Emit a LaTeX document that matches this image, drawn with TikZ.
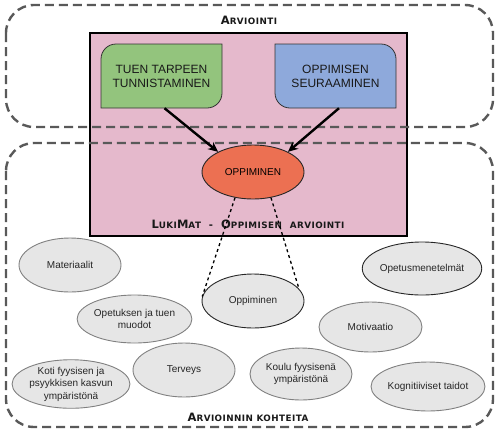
\documentclass[tikz,border=0pt]{standalone}
\usepackage{fontspec}
\setmainfont{Liberation Sans}
\newfontfamily\titlefont[LetterSpace=5]{DejaVu Sans}
\usetikzlibrary{arrows.meta,shapes.geometric}

\definecolor{lukipink}{RGB}{229,185,204}
\definecolor{tuengreen}{RGB}{147,196,125}
\definecolor{seurblue}{RGB}{142,169,219}
\definecolor{opporange}{RGB}{236,112,82}
\definecolor{targetgray}{RGB}{230,230,230}

% fake small caps for the headings
\newcommand{\capbig}[1]{{\fontsize{11.5}{12}\selectfont #1}}
\newcommand{\capsmall}[1]{{\fontsize{8.8}{12}\selectfont #1}}

\begin{document}
\begin{tikzpicture}[x=1pt,y=-1pt,
		areabox/.style={draw=black!65, line width=2.4pt, dash pattern=on 9pt off 5pt, rounded corners=28pt},
		heading/.style={font=\titlefont\bfseries, text=black!90, inner sep=0pt},
		caption/.style={font=\fontsize{12}{14}\selectfont, align=center, text=black!90},
		target/.style={ellipse, draw=black!50, fill=targetgray, line width=0.9pt, minimum width=102pt, minimum height=52pt, inner sep=0pt, align=center, font=\fontsize{10}{12.5}\selectfont, text=black!85},
		focus/.style={target, draw=black!85},
		bigarrow/.style={line width=2.4pt, -{Stealth[length=10pt,width=9pt]}},
		dotline/.style={line width=1.3pt, dash pattern=on 3pt off 3pt}]

		\useasboundingbox (0,0) rectangle (500,437);

		% LukiMat area
		\filldraw[fill=lukipink, draw=black, line width=1.4pt] (90,33) rectangle (407,236);

		% Dashed areas: Arviointi and Arvioinnin kohteita
		\draw[areabox] (6,5) rectangle (493,127);
		\draw[areabox] (6,143) rectangle (493,427);

		% Top boxes
		\filldraw[fill=tuengreen, draw=black!80, line width=0.8pt]
			(101,108) -- (101,59) arc(180:270:15) -- (222,44) -- (222,93) arc(0:90:15) -- cycle;
		\filldraw[fill=seurblue, draw=black!80, line width=0.8pt]
			(275,44) -- (381,44) arc(270:360:15) -- (396,108) -- (290,108) arc(90:180:15) -- cycle;
		\node[caption, minimum width=121pt, minimum height=64pt] (tuen) at (161.5,76) {TUEN TARPEEN\\TUNNISTAMINEN};
		\node[caption, minimum width=121pt, minimum height=64pt] (seur) at (335.5,76) {OPPIMISEN\\SEURAAMINEN};

		% Learning in the middle
		\node[ellipse, draw=black!85, fill=opporange, line width=0.9pt, minimum width=102pt, minimum height=54pt, inner sep=0pt, font=\fontsize{10}{12}\selectfont] (opp) at (253,172) {OPPIMINEN};
		\draw[bigarrow] ([xshift=3pt]tuen.south) -- (opp.150);
		\draw[bigarrow] ([xshift=3.5pt]seur.south) -- (opp.30);

		% Headings
		\node[heading] (hArv) at (249,20) {\capbig{A}\capsmall{RVIOINTI}};
		\node[heading] (hLuk) at (248,224) {\capbig{L}\capsmall{UKI}\capbig{M}\capsmall{AT}\ \ -\ \ \capbig{O}\capsmall{PPIMISEN}\ \ \capsmall{ARVIOINTI}};
		\node[heading] (hKoh) at (248,417) {\capbig{A}\capsmall{RVIOINNIN KOHTEITA}};

		% Targets of assessment
		\node[target, minimum height=54pt] (mat) at (70,265) {Materiaalit};
		\node[focus, minimum height=53pt] (menet) at (422,268.5) {Opetusmenetelmät};
		\node[focus, minimum height=54pt] (oppg) at (253,301) {Oppiminen};
		\node[target, minimum width=103pt, minimum height=48pt] (muod) at (134.5,319) {Opetuksen ja tuen\\muodot};
		\node[target, minimum width=103pt, minimum height=50pt] (moti) at (370.5,327) {Motivaatio};
		\node[target, minimum height=48pt] (koti) at (71,384) {Koti fyysisen ja\\psyykkisen kasvun\\ympäristönä};
		\node[target, minimum height=54pt] (terv) at (184,370) {Terveys};
		\node[target, minimum height=52pt] (koul) at (301,374) {Koulu fyysisenä\\ympäristönä};
		\node[target, minimum height=49pt] (kogn) at (428,386.5) {Kognitiiviset taidot};

		% Zoom lines
		\draw[dotline] (opp.235) -- (oppg.175);
		\draw[dotline] (opp.305) -- (oppg.15);

\end{tikzpicture}
\end{document}
